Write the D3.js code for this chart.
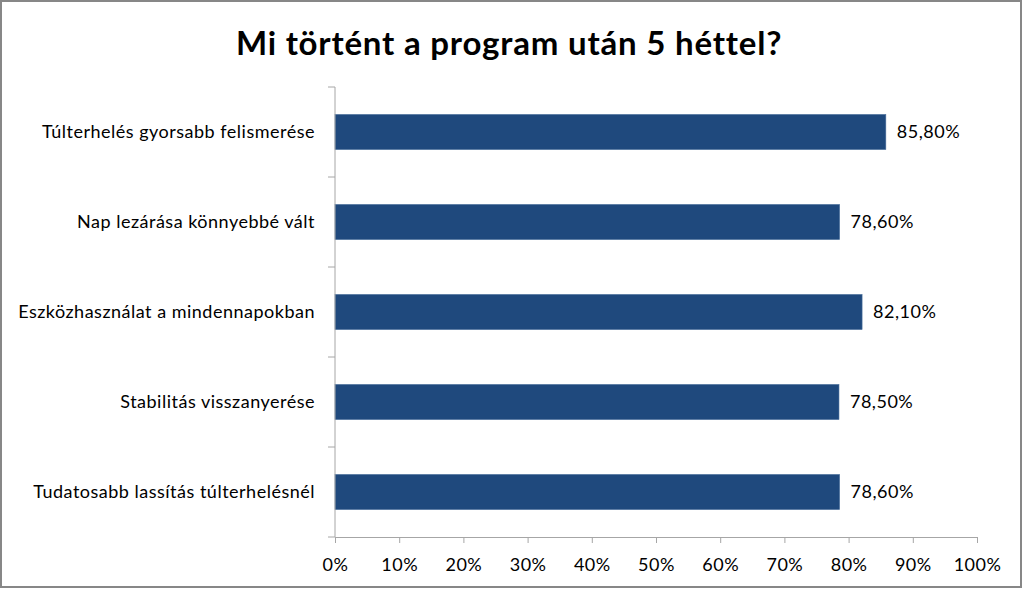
<!DOCTYPE html>
<html><head><meta charset="utf-8">
<script src="https://cdn.jsdelivr.net/npm/d3@7"></script>
<style>
html,body{margin:0;padding:0;background:#fff;}
text{font-family:Lato,"Open Sans",sans-serif;fill:#000;}
</style></head>
<body>
<svg id="c" width="1024" height="590"></svg>
<script>
const title = "Mi történt a program után 5 héttel?";
const categories = [
  "Túlterhelés gyorsabb felismerése",
  "Nap lezárása könnyebbé vált",
  "Eszközhasználat a mindennapokban",
  "Stabilitás visszanyerése",
  "Tudatosabb lassítás túlterhelésnél"
];
const values = [85.8, 78.6, 82.1, 78.5, 78.6];
const valueLabels = ["85,80%", "78,60%", "82,10%", "78,50%", "78,60%"];
const xTicks = [0,10,20,30,40,50,60,70,80,90,100];

const svg = d3.select("#c");
svg.append("rect").attr("x",1).attr("y",1).attr("width",1020).attr("height",586)
  .attr("fill","#fff").attr("stroke","#878787").attr("stroke-width",2);

svg.append("text").attr("x",509).attr("y",55).attr("text-anchor","middle")
  .style("font-size","33px").style("font-weight","bold").style("letter-spacing","0.8px").text(title);

const x = d3.scaleLinear().domain([0,100]).range([335,977]);
const y = d3.scaleBand().domain(categories).range([87,537]).paddingInner(0.61).paddingOuter(0.305);
const yb = d3.scaleBand().domain(categories).range([87,537]);

const axisColor = "#a6a6a6";
const fs = "18px", ls = "0.5px";

svg.selectAll("rect.bar").data(categories).enter().append("rect").attr("class","bar")
  .attr("x",x(0)).attr("y",d=>y(d)).attr("width",(d,i)=>x(values[i])-x(0)).attr("height",y.bandwidth())
  .attr("fill","#1F497D").attr("stroke","#4a6f9c").attr("stroke-width",0.6);

svg.selectAll("text.val").data(categories).enter().append("text").attr("class","val")
  .attr("x",(d,i)=>x(values[i])+11).attr("y",d=>y(d)+y.bandwidth()/2).attr("dy","0.35em")
  .style("font-size",fs).style("letter-spacing",ls).text((d,i)=>valueLabels[i]);

const xAxis = d3.axisBottom(x).tickValues(xTicks).tickFormat(d=>d+"%").tickSize(6).tickSizeOuter(0).tickPadding(15);
const gx = svg.append("g").attr("transform","translate(0,537)").call(xAxis);
gx.select(".domain").attr("stroke",axisColor);
gx.selectAll(".tick line").attr("stroke",axisColor);
gx.selectAll(".tick text").style("font-size",fs).style("letter-spacing",ls).attr("fill","#000").style("font-family",'Lato,"Open Sans",sans-serif');

const gy = svg.append("g");
gy.append("line").attr("x1",x(0)).attr("x2",x(0)).attr("y1",87).attr("y2",537).attr("stroke",axisColor);
const bounds = categories.map(d=>yb(d)).concat([537]);
gy.selectAll("line.t").data(bounds).enter().append("line").attr("class","t")
  .attr("x1",x(0)-7).attr("x2",x(0)).attr("y1",d=>d).attr("y2",d=>d).attr("stroke",axisColor);
gy.selectAll("text.cat").data(categories).enter().append("text").attr("class","cat")
  .attr("x",315).attr("y",d=>yb(d)+yb.bandwidth()/2).attr("dy","0.35em").attr("text-anchor","end")
  .style("font-size",fs).style("letter-spacing",ls).text(d=>d);
</script>
</body></html>
